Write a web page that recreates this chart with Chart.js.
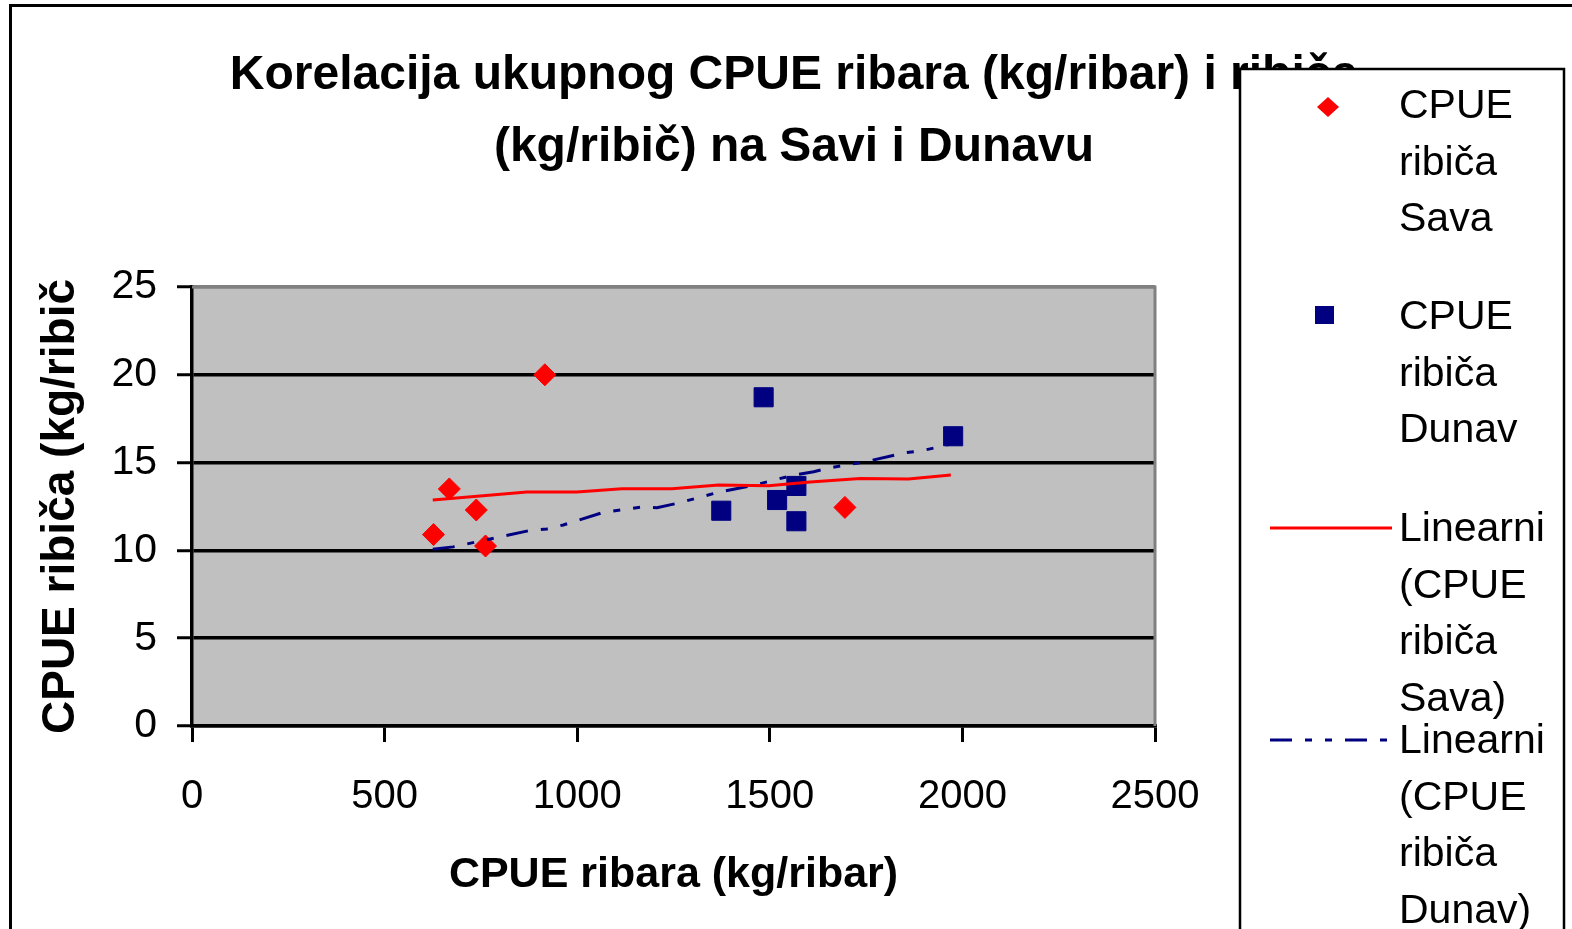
<!DOCTYPE html>
<html>
<head>
<meta charset="utf-8">
<script src="https://cdn.jsdelivr.net/npm/chart.js@4"></script>
<style>
  html, body { margin: 0; padding: 0; background: #fff; }
  #wrap { width: 1572px; height: 929px; position: relative; }
</style>
</head>
<body>
<div id="wrap"><canvas id="cpueChart" width="1572" height="929"></canvas></div>
<script>
// title lines
const titleLines = ["Korelacija ukupnog CPUE ribara (kg/ribar) i ribiča", "(kg/ribič) na Savi i Dunavu"];
const xTitle = "CPUE ribara (kg/ribar)";
const yTitle = "CPUE ribiča (kg/ribič";

// CPUE points, Sava
const savaX = [627, 668, 738, 762, 916, 1695];
const savaY = [10.9, 13.5, 12.3, 10.25, 20.0, 12.45];
// CPUE points, Dunav
const dunavX = [1374, 1484, 1519, 1569, 1569, 1976];
const dunavY = [12.26, 18.72, 12.87, 13.67, 11.66, 16.5];

// trend lines as drawn in the picture
const savaTrendX = [625, 748, 869, 999, 1116, 1246, 1367, 1497, 1605, 1735, 1860, 1970];
const savaTrendY = [12.87, 13.1, 13.33, 13.33, 13.51, 13.51, 13.72, 13.68, 13.9, 14.1, 14.07, 14.3];
const dunavTrendX = [625, 678, 874, 921, 964, 1068, 1168, 1207, 1263, 1363, 1458, 1562, 1614, 1657, 1744, 1852, 1895, 1951, 1968];
const dunavTrendY = [10.06, 10.2, 11.12, 11.22, 11.45, 12.17, 12.47, 12.43, 12.7, 13.29, 13.71, 14.29, 14.48, 14.71, 15.03, 15.56, 15.68, 15.95, 16.06];

const legendLabels = [
    ["CPUE", "ribiča", "Sava"],
    ["CPUE", "ribiča", "Dunav"],
    ["Linearni", "(CPUE", "ribiča", "Sava)"],
    ["Linearni", "(CPUE", "ribiča", "Dunav)"]
];

const RED = "#FF0000";
const NAVY = "#000080";
const FONT = "'Liberation Sans', Arial, sans-serif";
const blueDash = [22, 13, 7, 13, 7, 13];

function pts(xs, ys) {
    return xs.map((x, i) => ({ x: x, y: ys[i] }));
}

// grey plot area, gray border, outer frame, title and legend
const decorPlugin = {
    id: 'decor',
    beforeDraw(chart) {
        const ctx = chart.ctx;
        const a = chart.chartArea;
        ctx.save();
        ctx.fillStyle = "#fff";
        ctx.fillRect(0, 0, chart.width, chart.height);
        ctx.fillStyle = "#C0C0C0";
        ctx.fillRect(a.left, a.top, a.right - a.left, a.bottom - a.top);
        ctx.restore();
    },
    beforeDatasetsDraw(chart) {
        const ctx = chart.ctx;
        const a = chart.chartArea;
        ctx.save();
        ctx.strokeStyle = "#808080";
        ctx.lineWidth = 3;
        ctx.beginPath();
        ctx.moveTo(a.left, a.top);
        ctx.lineTo(a.right, a.top);
        ctx.lineTo(a.right, a.bottom);
        ctx.stroke();
        ctx.restore();
    },
    afterDraw(chart) {
        const ctx = chart.ctx;
        ctx.save();
        // outer frame
        ctx.strokeStyle = "#000";
        ctx.lineWidth = 3;
        ctx.beginPath();
        ctx.moveTo(10.5, 935);
        ctx.lineTo(10.5, 5.5);
        ctx.lineTo(1580, 5.5);
        ctx.stroke();

        // title
        ctx.fillStyle = "#000";
        ctx.font = "bold 48px " + FONT;
        ctx.textAlign = "center";
        ctx.textBaseline = "middle";
        ctx.fillText(titleLines[0], 794, 76);
        ctx.fillText(titleLines[1], 794, 148);

        // legend box
        ctx.fillStyle = "#fff";
        ctx.fillRect(1240, 69, 324, 880);
        ctx.strokeStyle = "#000";
        ctx.lineWidth = 2.5;
        ctx.strokeRect(1240, 69, 324, 880);

        const starts = [105, 316, 528, 740];
        const lh = 56.5;
        ctx.font = "41px " + FONT;
        ctx.textAlign = "left";
        ctx.fillStyle = "#000";
        legendLabels.forEach((lines, i) => {
            lines.forEach((t, j) => ctx.fillText(t, 1399, starts[i] + j * lh + 2));
        });

        // legend symbols
        ctx.fillStyle = RED;
        ctx.beginPath();
        ctx.moveTo(1317, 107);
        ctx.lineTo(1328, 97);
        ctx.lineTo(1339, 107);
        ctx.lineTo(1328, 117);
        ctx.closePath();
        ctx.fill();

        ctx.fillStyle = NAVY;
        ctx.fillRect(1315, 306, 19, 18);

        ctx.strokeStyle = RED;
        ctx.lineWidth = 3;
        ctx.beginPath();
        ctx.moveTo(1270, 528);
        ctx.lineTo(1392, 528);
        ctx.stroke();

        ctx.strokeStyle = NAVY;
        ctx.setLineDash(blueDash);
        ctx.beginPath();
        ctx.moveTo(1270, 740);
        ctx.lineTo(1388, 740);
        ctx.stroke();
        ctx.restore();
    }
};

const ctx = document.getElementById("cpueChart");
const cpueChart = new Chart(ctx, {
    type: 'scatter',
    data: {
        datasets: [
            {
                label: 'Linearni (CPUE ribiča Sava)',
                type: 'line',
                data: pts(savaTrendX, savaTrendY),
                borderColor: RED,
                borderWidth: 3,
                pointRadius: 0,
                fill: false,
                tension: 0,
                order: 0
            },
            {
                label: 'Linearni (CPUE ribiča Dunav)',
                type: 'line',
                data: pts(dunavTrendX, dunavTrendY),
                borderColor: NAVY,
                borderWidth: 3,
                borderDash: blueDash,
                borderCapStyle: 'butt',
                pointRadius: 0,
                fill: false,
                tension: 0,
                order: 0
            },
            {
                label: 'CPUE ribiča Sava',
                data: pts(savaX, savaY),
                pointStyle: 'rectRot',
                pointRadius: 11,
                backgroundColor: RED,
                borderColor: RED,
                borderWidth: 1,
                order: 1
            },
            {
                label: 'CPUE ribiča Dunav',
                data: pts(dunavX, dunavY),
                pointStyle: 'rect',
                pointRadius: 13.5,
                backgroundColor: NAVY,
                borderColor: NAVY,
                borderWidth: 1,
                order: 1
            }
        ]
    },
    options: {
        responsive: false,
        animation: false,
        events: [],
        layout: {
            padding: { left: 34, right: 417, top: 287, bottom: 28 }
        },
        scales: {
            x: {
                type: 'linear',
                min: 0,
                max: 2500,
                afterFit: s => { s.height = 175; },
                ticks: {
                    stepSize: 500,
                    padding: 31,
                    color: '#000',
                    font: { family: FONT, size: 40 },
                    callback: v => String(v)
                },
                grid: {
                    drawOnChartArea: false,
                    tickLength: 16,
                    tickColor: '#000',
                    tickWidth: 3,
                    lineWidth: 3,
                    color: '#000'
                },
                border: { color: '#000', width: 3.5 },
                title: {
                    display: true,
                    text: xTitle,
                    color: '#000',
                    padding: 0,
                    font: { family: FONT, size: 43, weight: 'bold' }
                }
            },
            y: {
                min: 0,
                max: 25,
                afterFit: s => { s.width = 158; },
                ticks: {
                    stepSize: 5,
                    padding: 20,
                    color: '#000',
                    font: { family: FONT, size: 41 }
                },
                grid: {
                    color: c => c.tick && c.tick.value === 25 ? '#808080' : '#000',
                    lineWidth: 3.5,
                    tickLength: 15,
                    tickColor: '#000',
                    tickWidth: 3
                },
                border: { color: '#000', width: 3.5 },
                title: {
                    display: true,
                    text: yTitle,
                    color: '#000',
                    padding: 0,
                    font: { family: FONT, size: 46, weight: 'bold' }
                }
            }
        },
        plugins: {
            legend: { display: false },
            title: { display: false },
            tooltip: { enabled: false }
        }
    },
    plugins: [decorPlugin]
});
</script>
</body>
</html>
